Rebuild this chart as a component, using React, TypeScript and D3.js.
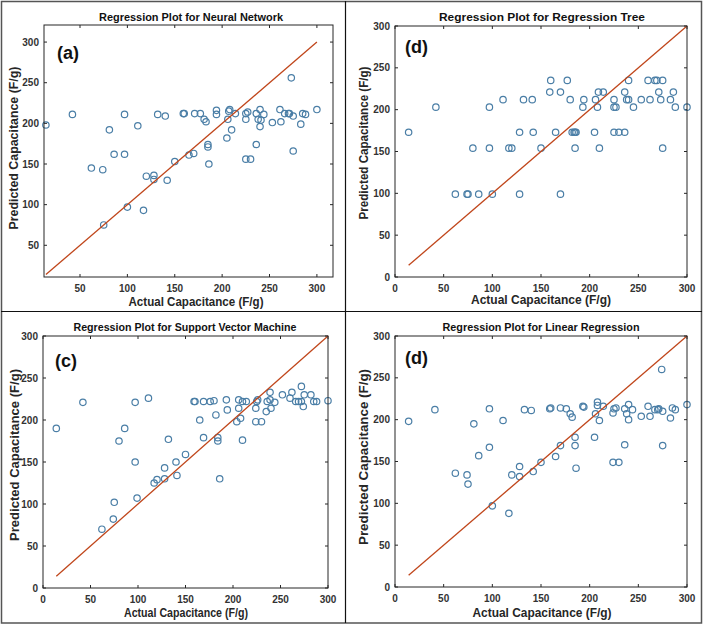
import React, { useEffect, useRef } from 'react';
import * as d3 from 'd3';

// [actual, predicted] pairs
const neuralNetwork: [number, number][] = [
    [14, 198], [42, 211], [62, 145], [74, 143], [75, 75], [81, 192], [86, 162], [97, 211], [97, 162],
    [100, 97], [111, 197], [117, 93], [120, 135], [128, 136], [128, 131], [132, 211], [140, 209],
    [142, 130], [150, 153], [159, 212], [160, 212], [165, 161], [170, 163], [171, 212], [177, 212],
    [181, 205], [183, 202], [185, 174], [185, 171], [186, 150], [194, 216], [194, 211], [205, 182],
    [206, 205], [207, 215], [208, 217], [210, 192], [214, 212], [225, 156], [225, 205], [225, 212],
    [227, 214], [230, 156], [236, 174], [236, 212], [238, 205], [240, 217], [240, 196], [241, 204],
    [244, 211], [253, 201], [261, 217], [262, 202], [266, 212], [270, 212], [271, 212], [273, 256],
    [275, 209], [275, 166], [283, 199], [285, 212], [288, 211], [300, 217],
];

const regressionTree: [number, number][] = [
    [14, 173], [42, 203], [62, 99], [74, 99], [75, 99], [80, 154], [86, 99], [97, 203], [97, 154],
    [100, 99], [111, 212], [117, 154], [120, 154], [128, 173], [128, 99], [132, 212], [141, 212],
    [142, 173], [150, 154], [159, 221], [160, 235], [165, 173], [170, 221], [170, 99], [177, 235],
    [180, 212], [182, 173], [184, 173], [185, 173], [186, 173], [185, 154], [193, 203], [194, 212],
    [205, 173], [206, 212], [208, 203], [209, 221], [214, 221], [210, 154], [225, 212], [225, 203],
    [227, 203], [225, 173], [230, 173], [236, 173], [236, 221], [240, 235], [238, 212], [240, 212],
    [245, 203], [253, 212], [260, 235], [262, 212], [267, 235], [269, 235], [271, 221], [273, 212],
    [275, 235], [275, 154], [283, 212], [286, 221], [288, 203], [300, 203],
];

const supportVector: [number, number][] = [
    [14, 190], [42, 221], [62, 70], [74, 82], [75, 102], [80, 175], [86, 190], [97, 221], [97, 150],
    [99, 107], [111, 226], [117, 125], [120, 129], [128, 143], [128, 130], [132, 177], [140, 150],
    [141, 134], [150, 159], [159, 222], [160, 222], [165, 200], [169, 179], [169, 222], [176, 222],
    [180, 223], [182, 206], [184, 179], [184, 175], [186, 130], [193, 224], [194, 212], [204, 198],
    [206, 214], [206, 224], [208, 202], [210, 222], [210, 176], [214, 222], [224, 198], [224, 214],
    [225, 222], [226, 224], [230, 198], [235, 210], [236, 222], [239, 224], [239, 233], [240, 214],
    [244, 221], [252, 230], [260, 226], [262, 233], [266, 222], [269, 222], [272, 240], [272, 222],
    [275, 230], [274, 216], [282, 230], [285, 222], [288, 222], [300, 223],
];

const linearRegression: [number, number][] = [
    [14, 198], [41, 212], [62, 136], [74, 134], [75, 123], [81, 195], [86, 157], [97, 213], [97, 167],
    [100, 97], [111, 199], [117, 88], [120, 134], [128, 144], [128, 132], [133, 212], [140, 211],
    [142, 138], [150, 149], [159, 213], [160, 214], [165, 156], [170, 169], [170, 214], [176, 213],
    [180, 207], [182, 203], [185, 179], [185, 169], [186, 142], [193, 216], [194, 215], [205, 179],
    [206, 207], [208, 221], [208, 217], [210, 199], [214, 216], [224, 149], [224, 208], [225, 213],
    [227, 214], [230, 149], [236, 170], [236, 213], [238, 207], [240, 218], [240, 200], [244, 212],
    [253, 204], [260, 216], [262, 204], [267, 212], [270, 212], [271, 213], [274, 260], [275, 210],
    [275, 169], [283, 202], [285, 214], [288, 212], [300, 218],
];

const fitLine: [number, number][] = [[14, 14], [300, 300]];
const ticksA = [50, 100, 150, 200, 250, 300];
const ticksFull = [0, 50, 100, 150, 200, 250, 300];

const panels = [
    {
        data: neuralNetwork, title: 'Regression Plot for Neural Network', tag: '(a)',
        frame: { l: 44, r: 333, t: 25, b: 277 }, xDomain: [12, 317], yDomain: [11, 321], ticks: ticksA,
        titleX: 191, titleY: 21, titleW: 184, xLabelX: 196, xLabelY: 306, xLabelW: 135,
        yLabelX: 18, yLabelY: 148, yLabelW: 163, tagX: 57, tagY: 59,
    },
    {
        data: regressionTree, title: 'Regression Plot for Regression Tree', tag: '(d)',
        frame: { l: 395, r: 687, t: 26, b: 277 }, xDomain: [0, 300], yDomain: [0, 300], ticks: ticksFull,
        titleX: 542, titleY: 21, titleW: 206, xLabelX: 541, xLabelY: 304, xLabelW: 140,
        yLabelX: 368, yLabelY: 143, yLabelW: 153, tagX: 405, tagY: 53,
    },
    {
        data: supportVector, title: 'Regression Plot for Support Vector Machine', tag: '(c)',
        frame: { l: 43, r: 328, t: 336, b: 588 }, xDomain: [0, 300], yDomain: [0, 300], ticks: ticksFull,
        titleX: 185, titleY: 331, titleW: 223, xLabelX: 186, xLabelY: 617, xLabelW: 124,
        yLabelX: 19, yLabelY: 455, yLabelW: 172, tagX: 55, tagY: 367,
    },
    {
        data: linearRegression, title: 'Regression Plot for Linear Regression', tag: '(d)',
        frame: { l: 395, r: 687, t: 336, b: 587 }, xDomain: [0, 300], yDomain: [0, 300], ticks: ticksFull,
        titleX: 541, titleY: 331, titleW: 197, xLabelX: 542, xLabelY: 617, xLabelW: 139,
        yLabelX: 368, yLabelY: 457, yLabelW: 176, tagX: 405, tagY: 364,
    },
];

const RegressionGrid: React.FC = () => {
    const ref = useRef<SVGSVGElement>(null);

    useEffect(() => {
        if (!ref.current) return;
        const svg = d3.select(ref.current);
        svg.selectAll('*').remove();
        const font = '"Liberation Sans", Arial, sans-serif';

        svg.append('rect').attr('width', 706).attr('height', 625).attr('fill', '#fff');

        panels.forEach((p) => {
            const { l, r, t, b } = p.frame;
            const x = d3.scaleLinear().domain(p.xDomain).range([l, r]);
            const y = d3.scaleLinear().domain(p.yDomain).range([b, t]);
            const g = svg.append('g');

            // ticks inside on all four sides, like a boxed matlab axis
            p.ticks.forEach((v) => {
                g.append('line').attr('x1', x(v)).attr('x2', x(v)).attr('y1', b).attr('y2', b - 3)
                    .attr('stroke', '#262626');
                g.append('line').attr('x1', x(v)).attr('x2', x(v)).attr('y1', t).attr('y2', t + 3)
                    .attr('stroke', '#262626');
                g.append('line').attr('y1', y(v)).attr('y2', y(v)).attr('x1', l).attr('x2', l + 3)
                    .attr('stroke', '#262626');
                g.append('line').attr('y1', y(v)).attr('y2', y(v)).attr('x1', r).attr('x2', r - 3)
                    .attr('stroke', '#262626');
                g.append('text').attr('x', x(v)).attr('y', b + 15).attr('text-anchor', 'middle')
                    .style('font', `bold 10px ${font}`).attr('fill', '#333').text(v);
                g.append('text').attr('x', l - 5).attr('y', y(v)).attr('dy', '0.35em')
                    .attr('text-anchor', 'end').style('font', `bold 10px ${font}`).attr('fill', '#333').text(v);
            });

            g.selectAll('circle.pt')
                .data(p.data)
                .enter()
                .append('circle')
                .attr('class', 'pt')
                .attr('cx', (d) => x(d[0]))
                .attr('cy', (d) => y(d[1]))
                .attr('r', 3.2)
                .attr('fill', 'none')
                .attr('stroke', '#4a7ea6')
                .attr('stroke-width', 1.2);

            g.append('path')
                .datum(fitLine)
                .attr('d', d3.line<[number, number]>().x((d) => x(d[0])).y((d) => y(d[1])))
                .attr('stroke', '#c0461b')
                .attr('stroke-width', 1.3)
                .attr('fill', 'none');

            g.append('rect').attr('x', l).attr('y', t).attr('width', r - l).attr('height', b - t)
                .attr('fill', 'none').attr('stroke', '#262626').attr('stroke-width', 1);

            g.append('text').attr('x', p.titleX).attr('y', p.titleY).attr('text-anchor', 'middle')
                .attr('textLength', p.titleW).attr('lengthAdjust', 'spacingAndGlyphs')
                .style('font', `bold 10px ${font}`).attr('fill', '#111').text(p.title);

            g.append('text').attr('x', p.xLabelX).attr('y', p.xLabelY).attr('text-anchor', 'middle')
                .attr('textLength', p.xLabelW).attr('lengthAdjust', 'spacingAndGlyphs')
                .style('font', `bold 12px ${font}`).attr('fill', '#262626').text('Actual Capacitance (F/g)');

            g.append('text')
                .attr('transform', `translate(${p.yLabelX}, ${p.yLabelY}) rotate(-90)`)
                .attr('text-anchor', 'middle')
                .attr('textLength', p.yLabelW).attr('lengthAdjust', 'spacingAndGlyphs')
                .style('font', `bold 12px ${font}`).attr('fill', '#262626').text('Predicted Capacitance (F/g)');

            g.append('text').attr('x', p.tagX).attr('y', p.tagY)
                .style('font', `bold 18px ${font}`).attr('fill', '#111').text(p.tag);
        });

        // figure borders and quadrant dividers
        svg.append('rect').attr('x', 1.5).attr('y', 1.5).attr('width', 700).attr('height', 621.5)
            .attr('fill', 'none').attr('stroke', '#555').attr('stroke-width', 1.5);
        svg.append('line').attr('x1', 345.5).attr('x2', 345.5).attr('y1', 1).attr('y2', 623)
            .attr('stroke', '#111').attr('stroke-width', 1.2);
        svg.append('line').attr('x1', 1).attr('x2', 702).attr('y1', 311.5).attr('y2', 311.5)
            .attr('stroke', '#111').attr('stroke-width', 1.2);
    }, []);

    return <svg ref={ref} width={706} height={625} style={{ display: 'block' }} />;
};

export default function App() {
    return (
        <div style={{ position: 'absolute', left: 0, top: 0 }}>
            <RegressionGrid />
        </div>
    );
}
